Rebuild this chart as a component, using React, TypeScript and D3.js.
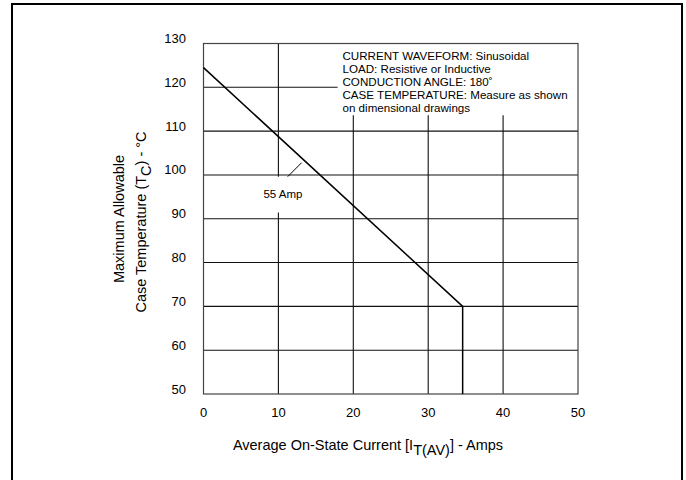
import React from "react";
import * as d3 from "d3";

const xTicks = [0, 10, 20, 30, 40, 50];
const yTicks = [50, 60, 70, 80, 90, 100, 110, 120, 130];
const curveX = [0, 34.6, 34.6];
const curveY = [124.5, 70, 50];
const fullHLines = [60, 70, 80, 90, 100, 110];
const partialHLine = { y: 120, x0: 0, x1: 17.9 };
const vLine10 = { x: 10, gapLo: 91.4, gapHi: 99.6 };
const shortVLines = [20, 30, 40];
const shortVTop = 113.6;
const leaderX = [11.24, 13.1];
const leaderY = [99.6, 102.8];
const notes = [
  "CURRENT WAVEFORM: Sinusoidal",
  "LOAD: Resistive or Inductive",
  "CONDUCTION ANGLE: 180\u02da",
  "CASE TEMPERATURE: Measure as shown",
  "on dimensional drawings",
];
const label55 = "55 Amp";

const W = 686;
const H = 480;
const L = 203.5, R = 578, T = 43.5, B = 394;
const FONT = "'Liberation Sans', Arial, Helvetica, sans-serif";

export default function App() {
  const x = d3.scaleLinear().domain([0, 50]).range([L, R]);
  const y = d3.scaleLinear().domain([50, 130]).range([B, T]);
  const line = d3.line<number>().x((_, i) => x(curveX[i])).y((d) => y(d));
  const leader = d3.line<number>().x((_, i) => x(leaderX[i])).y((d) => y(d));
  const sw = 1.1;
  return (
    <svg width={W} height={H} style={{ position: "absolute", left: 0, top: 0, background: "#fff" }}>
      <rect x={12} y={4} width={670} height={500} fill="#fff" stroke="#000" strokeWidth={2} />
      {fullHLines.map((v) => (
        <line key={"h" + v} x1={L} x2={R} y1={y(v)} y2={y(v)} stroke="#111" strokeWidth={sw} />
      ))}
      <line x1={x(partialHLine.x0)} x2={x(partialHLine.x1)} y1={y(partialHLine.y)} y2={y(partialHLine.y)} stroke="#111" strokeWidth={sw} />
      <line x1={x(vLine10.x)} x2={x(vLine10.x)} y1={T} y2={y(vLine10.gapHi)} stroke="#111" strokeWidth={sw} />
      <line x1={x(vLine10.x)} x2={x(vLine10.x)} y1={y(vLine10.gapLo)} y2={B} stroke="#111" strokeWidth={sw} />
      {shortVLines.map((v) => (
        <line key={"v" + v} x1={x(v)} x2={x(v)} y1={y(shortVTop)} y2={B} stroke="#111" strokeWidth={sw} />
      ))}
      <rect x={L} y={T} width={R - L} height={B - T} fill="none" stroke="#444" strokeWidth={1.2} />
      <path d={line(curveY) || ""} fill="none" stroke="#000" strokeWidth={1.5} />
      <path d={leader(leaderY) || ""} fill="none" stroke="#000" strokeWidth={1} />
      <text x={x(10.6)} y={y(95.6)} dy="0.35em" textAnchor="middle" fontFamily={FONT} fontSize={11.5}>
        {label55}
      </text>
      {notes.map((n, i) => (
        <text key={n} x={342.5} y={59.5 + i * 13} fontFamily={FONT} fontSize={11.6}>
          {n}
        </text>
      ))}
      {yTicks.map((v) => (
        <text key={"yt" + v} x={186} y={y(v) - 5} dy="0.35em" textAnchor="end" fontFamily={FONT} fontSize={13}>
          {v}
        </text>
      ))}
      {xTicks.map((v) => (
        <text key={"xt" + v} x={x(v)} y={412.5} dy="0.35em" textAnchor="middle" fontFamily={FONT} fontSize={13}>
          {v}
        </text>
      ))}
      <text x={368} y={450} textAnchor="middle" fontFamily={FONT} fontSize={14.5}>
        Average On-State Current [I<tspan dy={5}>T(AV)</tspan><tspan dy={-5}>] - Amps</tspan>
      </text>
      <g transform="translate(124,219) rotate(-90)">
        <text x={0} y={0} textAnchor="middle" fontFamily={FONT} fontSize={14.5}>
          Maximum Allowable
        </text>
      </g>
      <g transform="translate(146,222) rotate(-90)">
        <text x={0} y={0} textAnchor="middle" fontFamily={FONT} fontSize={14.5}>
          Case Temperature (T<tspan dy={5}>C</tspan><tspan dy={-5}>) - °C</tspan>
        </text>
      </g>
    </svg>
  );
}
